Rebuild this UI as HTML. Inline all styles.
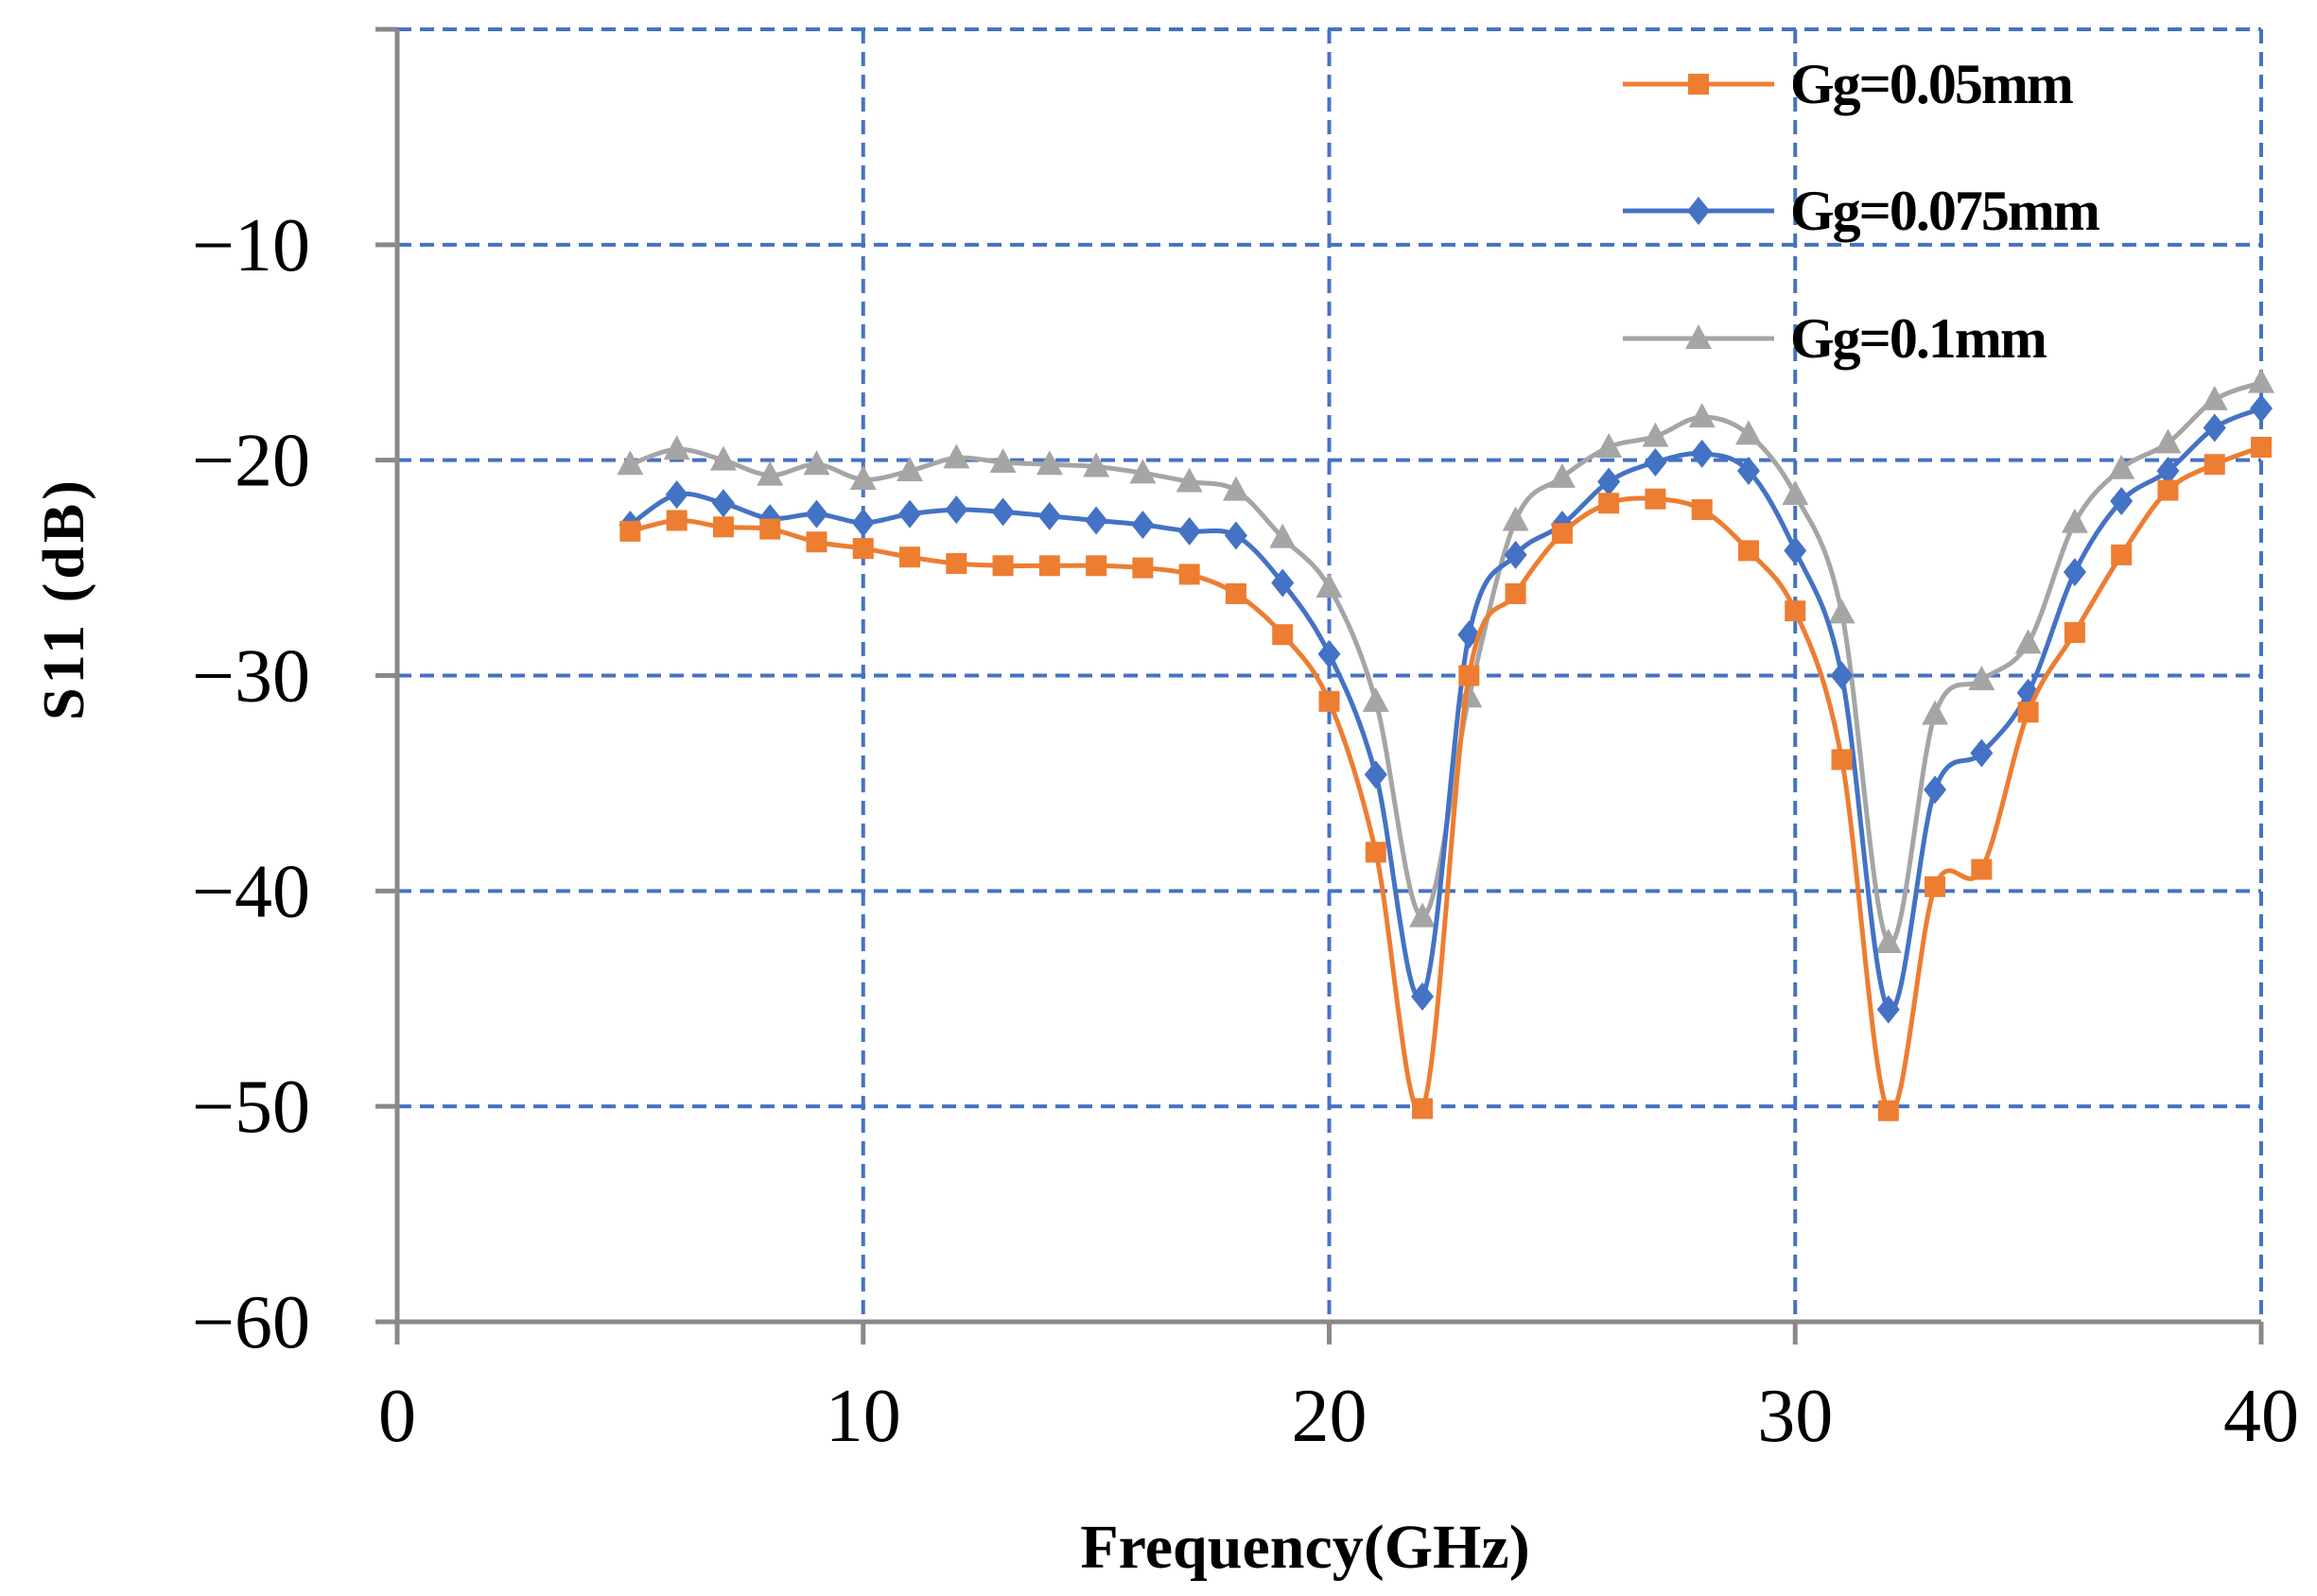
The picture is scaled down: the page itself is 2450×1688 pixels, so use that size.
<!DOCTYPE html>
<html><head><meta charset="utf-8"><style>
html,body{margin:0;padding:0;background:#fff;}
svg{display:block;}
text{font-family:"Liberation Serif",serif;fill:#000;}
</style></head><body>
<svg id="s" width="2450" height="1688" viewBox="0 0 2450 1688" xmlns="http://www.w3.org/2000/svg">
<g id="grid" stroke="#4472C4" stroke-width="4" stroke-dasharray="15,9" fill="none"></g>
<g id="axes" stroke="#898989" stroke-width="5" fill="none"></g>
<g id="series"></g>
<g id="labels" font-size="80"></g>
<text x="1380" y="1658" font-size="66" font-weight="bold" text-anchor="middle">Frequency(GHz)</text>
<text transform="translate(88,633) rotate(-90)" font-size="62" font-weight="bold" text-anchor="middle" letter-spacing="4">S11 (dB)</text>
<g id="legend"></g>
</svg>
<script>
const NS="http://www.w3.org/2000/svg";
const X=f=>420+f*(2391-420)/40, Y=d=>31-d*(1398-31)/60;
function el(p,t,a,txt){const e=document.createElementNS(NS,t);for(const k in a)e.setAttribute(k,a[k]);if(txt!==undefined)e.textContent=txt;p.appendChild(e);return e;}
const g=document.getElementById('grid'),ax=document.getElementById('axes'),lb=document.getElementById('labels');
for(let f=10;f<=40;f+=10)el(g,'line',{x1:X(f),y1:Y(0),x2:X(f),y2:Y(-60)});
for(let d=0;d>=-50;d-=10)el(g,'line',{x1:X(0),y1:Y(d),x2:X(40),y2:Y(d)});
el(ax,'line',{x1:X(0),y1:Y(0),x2:X(0),y2:Y(-60)+24});
el(ax,'line',{x1:397,y1:Y(-60),x2:X(40),y2:Y(-60)});
for(let f=10;f<=40;f+=10)el(ax,'line',{x1:X(f),y1:Y(-60),x2:X(f),y2:Y(-60)+24});
for(let d=0;d>=-50;d-=10)el(ax,'line',{x1:397,y1:Y(d),x2:X(0),y2:Y(d)});
for(let f=0;f<=40;f+=10)el(lb,'text',{x:X(f),y:1524,'text-anchor':'middle'},String(f));
for(let d=-10;d>=-60;d-=10)el(lb,'text',{x:328,y:Y(d)+27,'text-anchor':'end'},'\u2212'+(-d));
const O=[-23.3,-22.8,-23.1,-23.2,-23.8,-24.1,-24.5,-24.8,-24.9,-24.9,-24.9,-25.0,-25.3,-26.2,-28.1,-31.2,-38.2,-50.1,-30.0,-26.2,-23.4,-22.0,-21.8,-22.3,-24.2,-27.0,-33.9,-50.2,-39.8,-39.0,-31.7,-28.0,-24.4,-21.4,-20.2,-19.4];
const B=[-23.0,-21.6,-22.0,-22.7,-22.5,-22.9,-22.5,-22.3,-22.4,-22.6,-22.8,-23.0,-23.3,-23.5,-25.7,-29.0,-34.6,-44.9,-28.1,-24.4,-23.0,-21.0,-20.1,-19.7,-20.5,-24.2,-30.0,-45.5,-35.3,-33.6,-30.8,-25.2,-21.9,-20.5,-18.5,-17.6];
const G=[-20.2,-19.5,-20.0,-20.7,-20.2,-20.9,-20.5,-19.9,-20.1,-20.2,-20.3,-20.6,-21.0,-21.4,-23.6,-25.9,-31.2,-41.2,-31.0,-22.8,-20.8,-19.4,-18.9,-18.0,-18.8,-21.6,-27.1,-42.4,-31.8,-30.2,-28.5,-22.9,-20.4,-19.2,-17.2,-16.4];
function path(P){let d='M'+P[0][0]+','+P[0][1];for(let i=0;i<P.length-1;i++){const p0=P[i-1]||P[i],p1=P[i],p2=P[i+1],p3=P[i+2]||P[i+1];const t=0.5/3;d+=' C'+(p1[0]+(p2[0]-p0[0])*t)+','+(p1[1]+(p2[1]-p0[1])*t)+' '+(p2[0]-(p3[0]-p1[0])*t)+','+(p2[1]-(p3[1]-p1[1])*t)+' '+p2[0]+','+p2[1];}return d;}
function marker(p,type,x,y,c){
 if(type==='sq')el(p,'rect',{x:x-11,y:y-11,width:22,height:22,fill:c});
 else if(type==='di')el(p,'polygon',{points:`${x},${y-15} ${x+12},${y} ${x},${y+15} ${x-12},${y}`,fill:c});
 else el(p,'polygon',{points:`${x},${y-15} ${x+14},${y+11} ${x-14},${y+11}`,fill:c});}
const S=document.getElementById('series');
[[G,'#A5A5A5','tr'],[B,'#4472C4','di'],[O,'#ED7D31','sq']].forEach(([D,c,m])=>{
 const P=D.map((v,i)=>[X(i+5),Y(v)]);
 el(S,'path',{d:path(P),stroke:c,'stroke-width':5,fill:'none'});
 P.forEach(p=>marker(S,m,p[0],p[1],c));});
const L=document.getElementById('legend');
[['Gg=0.05mm','#ED7D31','sq',89],['Gg=0.075mm','#4472C4','di',223],['Gg=0.1mm','#A5A5A5','tr',358]].forEach(([t,c,m,y])=>{
 el(L,'line',{x1:1716,y1:y,x2:1876,y2:y,stroke:c,'stroke-width':5});
 marker(L,m,1796,y,c);
 el(L,'text',{x:1893,y:y+20,'font-size':60,'font-weight':'bold','letter-spacing':'-2'},t);});
</script>
</body></html>
